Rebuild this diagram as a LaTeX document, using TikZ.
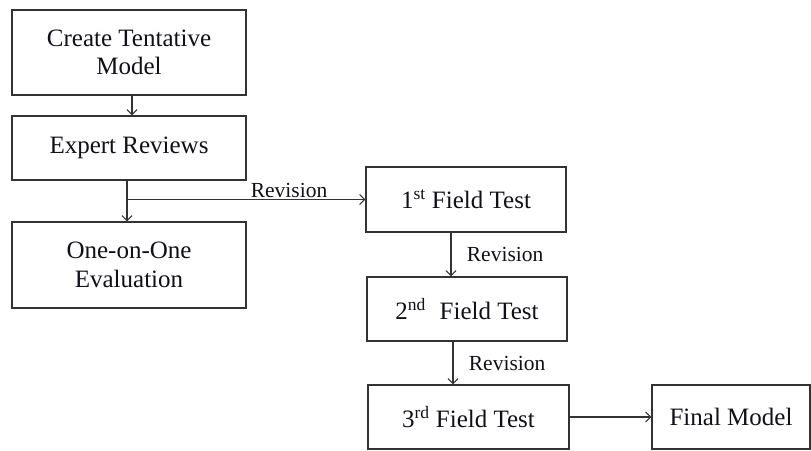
\documentclass[tikz,border=0pt]{standalone}
\usepackage{fontspec}
\setmainfont{Liberation Serif}
\usetikzlibrary{arrows.meta}
\definecolor{fmLine}{HTML}{333333}
\definecolor{fmText}{HTML}{101018}

\begin{document}
\begin{tikzpicture}[
  x=1pt, y=-1pt,
  stage/.style={draw=fmLine, line width=1.3pt, fill=white, text=fmText, align=center,
                font=\fontsize{25}{28.5}\selectfont, inner sep=0pt},
  flow/.style={-{Straight Barb[length=5pt,width=10pt]}, line width=1.1pt, draw=fmLine},
  rev/.style={text=fmText, font=\fontsize{21.5}{24}\selectfont},
]
\useasboundingbox (0,0) rectangle (811,450);

% ── Left column ──────────────────────────────────────────────────────────────
\node[stage, minimum width=234, minimum height=85] (create) at (129,52.5) {Create Tentative\\Model};
\node[stage, minimum width=234, minimum height=64] (expert) at (129,148)  {Expert Reviews};
\node[stage, minimum width=234, minimum height=86] (oneone) at (129,265)  {One-on-One\\Evaluation};

% ── Field tests + final model ────────────────────────────────────────────────
\node[stage, minimum width=200, minimum height=65] (field1) at (466,199.5) {1\textsuperscript{st} Field Test};
\node[stage, minimum width=200, minimum height=64] (field2) at (467,309)   {2\textsuperscript{nd}\hspace{0.3em} Field Test};
\node[stage, minimum width=201, minimum height=64] (field3) at (468.5,417) {3\textsuperscript{rd} Field Test};
\node[stage, minimum width=158, minimum height=64] (final)  at (731,417)   {Final Model};

% ── Connectors ───────────────────────────────────────────────────────────────
\draw[flow] ([xshift=3]create.south) -- ([xshift=3]create.south |- expert.north);
\draw[flow] ([xshift=-2]expert.south) -- ([xshift=-2]expert.south |- oneone.north);
\coordinate (branch) at ([xshift=-2]expert.south |- field1.west);
\draw[flow] (branch) -- node[rev, above, pos=0.68, inner sep=1pt] {Revision} (field1.west);
\draw[flow] ([xshift=-15]field1.south) -- node[rev, right, xshift=12] {Revision} ([xshift=-15]field1.south |- field2.north);
\draw[flow] ([xshift=-14]field2.south) -- node[rev, right, xshift=12] {Revision} ([xshift=-14]field2.south |- field3.north);
\draw[flow] (field3.east) -- (final.west);

\end{tikzpicture}
\end{document}
